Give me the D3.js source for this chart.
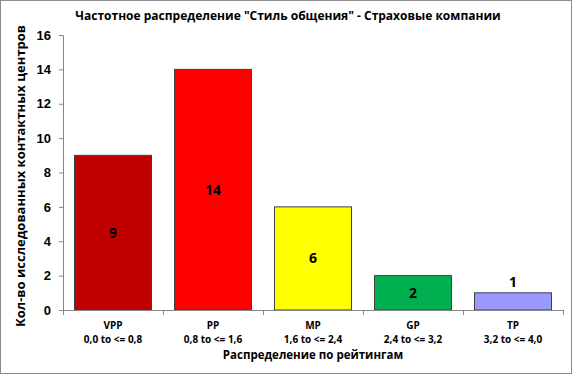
<!DOCTYPE html>
<html>
<head>
<meta charset="UTF-8">
<style>
body, html { margin: 0; padding: 0; background: #fff; overflow: hidden; }
svg { display: block; font-family: "Open Sans", "DejaVu Sans", sans-serif; font-weight: bold; }
</style>
</head>
<body>
<svg id="chart" width="572" height="374"></svg>
<script src="https://d3js.org/d3.v7.min.js"></script>
<script>
// chart data
let categories = ["VPP", "PP", "MP", "GP", "TP"];
let ranges = ["0,0 to <= 0,8", "0,8 to <= 1,6", "1,6 to <= 2,4", "2,4 to <= 3,2", "3,2 to <= 4,0"];
let values = [9, 14, 6, 2, 1];
let colors = ["#C00000", "#FF0000", "#FFFF00", "#00B050", "#9999FF"];
let yTicks = [0, 2, 4, 6, 8, 10, 12, 14, 16];

let width = 572, height = 374;
let margin = { left: 63, right: 9, top: 35, bottom: 64 };

let svg = d3.select("#chart");

// outer frame
svg.append("rect")
    .attr("x", 0.5).attr("y", 0.5)
    .attr("width", width - 1).attr("height", height - 1)
    .attr("fill", "#fff").attr("stroke", "#8c8c8c");

let x = d3.scaleBand()
    .domain(categories)
    .range([margin.left, width - margin.right])
    .paddingInner(0.23).paddingOuter(0.115);

let y = d3.scaleLinear()
    .domain([0, 16])
    .range([height - margin.bottom, margin.top]);

// bars
svg.append("g").selectAll("rect")
    .data(values)
    .enter()
    .append("rect")
    .attr("x", (d, i) => x(categories[i]))
    .attr("y", d => y(d))
    .attr("width", x.bandwidth())
    .attr("height", d => y(0) - y(d))
    .attr("fill", (d, i) => colors[i])
    .attr("stroke", "#404040")
    .attr("stroke-width", 1);

// y axis
let yAxis = svg.append("g")
    .attr("transform", `translate(${margin.left},0)`)
    .call(d3.axisLeft(y).tickValues(yTicks).tickSize(4).tickPadding(8));
yAxis.selectAll("path, line").attr("stroke", "#868686");
yAxis.selectAll("text").attr("font-size", 13).attr("fill", "#000").attr("font-family", "inherit");

// x axis: ticks at band boundaries
let step = x.step();
let bounds = d3.range(categories.length + 1).map(i => margin.left + i * step);
let xg = svg.append("g");
xg.append("line")
    .attr("x1", margin.left).attr("x2", width - margin.right)
    .attr("y1", y(0) + 0.5).attr("y2", y(0) + 0.5)
    .attr("stroke", "#868686");
xg.selectAll(".xt")
    .data(bounds)
    .enter()
    .append("line")
    .attr("x1", d => Math.round(d) + 0.5).attr("x2", d => Math.round(d) + 0.5)
    .attr("y1", y(0)).attr("y2", y(0) + 5)
    .attr("stroke", "#868686");

let xLabels = xg.selectAll(".xl")
    .data(categories)
    .enter()
    .append("text")
    .attr("text-anchor", "middle")
    .attr("font-size", 10)
    .attr("x", d => x(d) + x.bandwidth() / 2);
xLabels.append("tspan")
    .attr("x", d => x(d) + x.bandwidth() / 2)
    .attr("y", 329)
    .text(d => d);
xLabels.append("tspan")
    .attr("x", d => x(d) + x.bandwidth() / 2)
    .attr("y", 343)
    .text((d, i) => ranges[i]);

// value labels
svg.append("g").selectAll("text")
    .data(values)
    .enter()
    .append("text")
    .attr("text-anchor", "middle")
    .attr("font-size", 14)
    .attr("x", (d, i) => x(categories[i]) + x.bandwidth() / 2)
    .attr("y", d => d < 2 ? y(d) - 6 : (y(d) + y(0)) / 2 + 5)
    .text(d => d);

// titles
svg.append("text")
    .attr("x", 288).attr("y", 20)
    .attr("text-anchor", "middle")
    .attr("font-size", 12)
    .text("Частотное распределение \"Стиль общения\" - Страховые компании");

svg.append("text")
    .attr("x", 313).attr("y", 359)
    .attr("text-anchor", "middle")
    .attr("font-size", 11.5)
    .text("Распределение по рейтингам");

svg.append("text")
    .attr("transform", "translate(25,176) rotate(-90)")
    .attr("text-anchor", "middle")
    .attr("font-size", 13)
    .text("Кол-во исследованных контактных центров");
</script>
</body>
</html>
